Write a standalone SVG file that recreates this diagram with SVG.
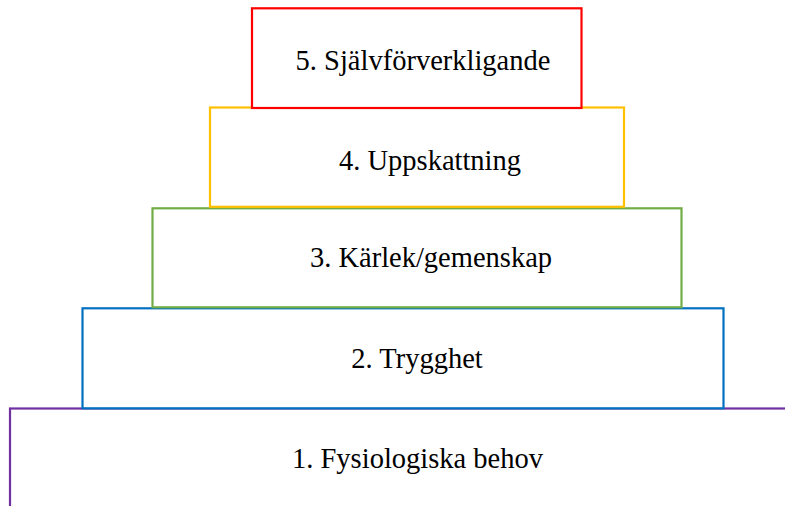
<svg xmlns="http://www.w3.org/2000/svg" width="785" height="506" viewBox="0 0 785 506">
<style>
.box{fill:#ffffff;stroke-width:2.2}
.lbl{font-family:"Liberation Serif","Times New Roman",serif;font-size:28.5px;fill:#000;text-anchor:middle}
</style>
<rect width="785" height="506" fill="#ffffff"/>
<g id="level1">
<rect class="box" x="10" y="408.5" width="800" height="130" stroke="#7030A0"/>
<text class="lbl" x="417.5" y="468">1. Fysiologiska behov</text>
</g>
<g id="level2">
<rect class="box" x="82.5" y="308.3" width="641" height="100" stroke="#0070C0"/>
<text class="lbl" x="417" y="368">2. Trygghet</text>
</g>
<g id="level3">
<rect class="box" x="152.5" y="208.3" width="529" height="99" stroke="#70AD47"/>
<text class="lbl" x="431" y="267">3. Kärlek/gemenskap</text>
</g>
<g id="level4">
<rect class="box" x="210" y="107.5" width="414" height="99.3" stroke="#FFC000"/>
<text class="lbl" x="430" y="170">4. Uppskattning</text>
</g>
<g id="level5">
<rect class="box" x="252" y="8.3" width="329.5" height="99.7" stroke="#FF0000"/>
<text class="lbl" x="423" y="70">5. Självförverkligande</text>
</g>
<g id="connectors"/>
</svg>
